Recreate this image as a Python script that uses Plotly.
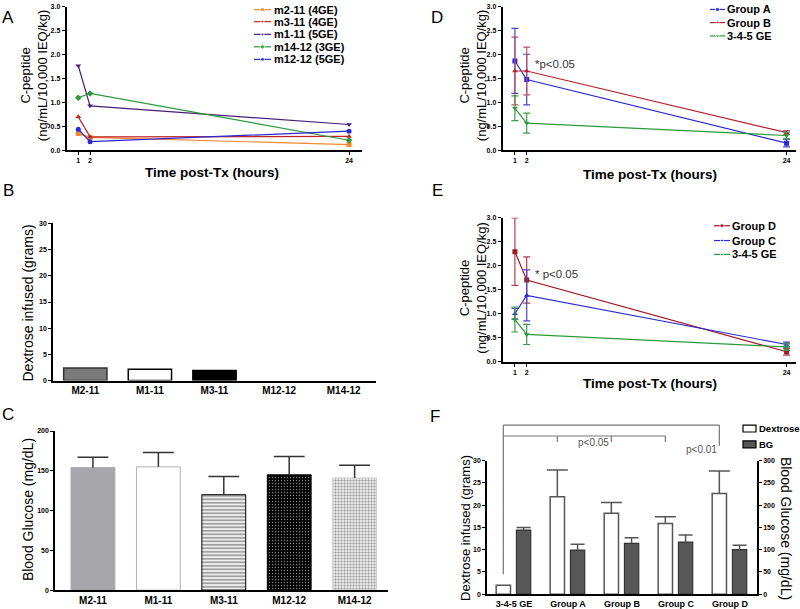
import plotly.graph_objects as go

W, H = 800, 609
FONT = "Liberation Sans, Arial, sans-serif"

# ---------------- data ----------------
hours = [1, 2, 24]

a_names = ["m2-11 (4GE)", "m3-11 (4GE)", "m1-11 (5GE)", "m14-12 (3GE)", "m12-12 (5GE)"]
a_m2_11 = [0.35, 0.27, 0.12]
a_m3_11 = [0.70, 0.28, 0.29]
a_m1_11 = [1.77, 0.93, 0.54]
a_m14_12 = [1.10, 1.19, 0.21]
a_m12_12 = [0.44, 0.18, 0.40]

mice = ["M2-11", "M1-11", "M3-11", "M12-12", "M14-12"]
b_dextrose = [2.4, 2.15, 1.95, 0.0, 0.0]
c_glucose = [154, 155, 120, 145, 141]
c_glucose_err = [13, 18, 23, 23, 16]

d_names = ["Group A", "Group B", "3-4-5 GE"]
d_group_a = [1.87, 1.48, 0.15]
d_group_a_err = [0.68, 0.53, 0.08]
d_group_b = [1.66, 1.66, 0.37]
d_group_b_err = [0.71, 0.50, 0.04]
ge_345 = [0.88, 0.57, 0.31]
ge_345_err = [0.26, 0.21, 0.07]

e_names = ["Group D", "Group C", "3-4-5 GE"]
e_group_d = [2.29, 1.70, 0.21]
e_group_d_err = [0.70, 0.48, 0.07]
e_group_c = [1.00, 1.38, 0.36]
e_group_c_err = [0.11, 0.53, 0.05]

f_groups = ["3-4-5 GE", "Group A", "Group B", "Group C", "Group D"]
f_dextrose = [2.0, 21.9, 18.2, 15.9, 22.6]
f_dextrose_err = [0.0, 6.0, 2.4, 1.5, 5.1]
f_bg = [144, 99, 114, 117, 100]
f_bg_err = [6, 13, 13, 16, 10]

# ---------------- styles ----------------
a_colors = ["#f5882f", "#c4231f", "#4b1d78", "#2b9a3b", "#2a2ad2"]
a_symbols = ["square", "triangle-up", "triangle-down", "diamond", "circle"]
d_colors = ["#2a2ad2", "#b8202a", "#2b9a3b"]
d_ecolors = ["#4646c8", "#c0506a", "#3a9a4a"]
e_colors = ["#a01820", "#2a2ad2", "#2b9a3b"]
e_ecolors = ["#b04050", "#4646c8", "#3a9a4a"]
grp_symbols_d = ["square", "triangle-up", "triangle-down"]
grp_symbols_e = ["square", "triangle-up", "triangle-down"]


def fx(p):
    return p / W


def fy(p):
    return 1 - p / H


def axis(**kw):
    base = dict(showline=True, linecolor="black", linewidth=1.5, showgrid=False,
                zeroline=False, ticks="outside", ticklen=3, tickwidth=1.2,
                tickcolor="black",
                tickfont=dict(family=FONT, size=7, color="black", weight="bold"))
    base.update(kw)
    return base


fig = go.Figure()

# ---- Panel A ----
for name, ys, col, sym in zip(a_names, [a_m2_11, a_m3_11, a_m1_11, a_m14_12, a_m12_12],
                              a_colors, a_symbols):
    fig.add_trace(go.Scatter(x=hours, y=ys, name=name, mode="lines+markers",
                             line=dict(color=col, width=1.2),
                             marker=dict(symbol=sym, size=5, color=col),
                             xaxis="x", yaxis="y", showlegend=False))

# ---- Panel B ----
fig.add_trace(go.Bar(x=mice, y=b_dextrose, width=0.67,
                     marker=dict(color=["#7a7a7a", "white", "black", "white", "white"],
                                 line=dict(color=["#333333", "black", "black", "black", "black"],
                                           width=[1.5, 1.5, 1.5, 0, 0])),
                     xaxis="x2", yaxis="y2", showlegend=False))

# ---- Panel C ----
fig.add_trace(go.Bar(x=mice, y=c_glucose, width=0.67,
                     marker=dict(color=["#a6a6ab", "white", "white", "black", "white"],
                                 line=dict(color=["#a6a6ab", "#b0b0b0", "black", "black", "#cccccc"],
                                           width=1),
                                 pattern=dict(shape=["", "", "-", ".", "."],
                                              fillmode="overlay",
                                              fgcolor=["#a6a6ab", "white", "black", "#2c2c2c", "#b0b0b0"],
                                              size=[8, 8, 3.5, 3, 3],
                                              solidity=[0.3, 0.3, 0.6, 0.2, 0.5])),
                     xaxis="x3", yaxis="y3", showlegend=False))
fig.add_trace(go.Scatter(x=mice, y=[v + e for v, e in zip(c_glucose, c_glucose_err)],
                         mode="markers",
                         marker=dict(symbol="line-ew", size=22, line=dict(color="#333333", width=1.5)),
                         error_y=dict(type="data", symmetric=False, array=[0] * 5,
                                      arrayminus=c_glucose_err, width=0, thickness=1.5,
                                      color="#333333"),
                         xaxis="x3", yaxis="y3", showlegend=False))

# ---- Panel D ----
for name, ys, errs, col, ecol, sym in zip(d_names, [d_group_a, d_group_b, ge_345],
                                          [d_group_a_err, d_group_b_err, ge_345_err],
                                          d_colors, d_ecolors, grp_symbols_d):
    fig.add_trace(go.Scatter(x=hours, y=ys, name=name, mode="lines+markers",
                             line=dict(color=col, width=1.2),
                             marker=dict(symbol=sym, size=5, color=col),
                             error_y=dict(type="data", array=errs, color=ecol,
                                          thickness=1.2, width=3.5),
                             xaxis="x4", yaxis="y4", showlegend=False))

# ---- Panel E ----
for name, ys, errs, col, ecol, sym in zip(e_names, [e_group_d, e_group_c, ge_345],
                                          [e_group_d_err, e_group_c_err, ge_345_err],
                                          e_colors, e_ecolors, grp_symbols_e):
    fig.add_trace(go.Scatter(x=hours, y=ys, name=name, mode="lines+markers",
                             line=dict(color=col, width=1.2),
                             marker=dict(symbol=sym, size=5, color=col),
                             error_y=dict(type="data", array=errs, color=ecol,
                                          thickness=1.2, width=3.5),
                             xaxis="x5", yaxis="y5", showlegend=False))

# ---- Panel F ----
f_x = list(range(len(f_groups)))
F_W = 0.265
F_OFF_DEX = -0.33
F_OFF_BG = 0.045
fig.add_trace(go.Bar(x=f_x, y=f_dextrose, width=F_W, offset=F_OFF_DEX,
                     marker=dict(color="white", line=dict(color="#555555", width=1.5)),
                     xaxis="x6", yaxis="y6", showlegend=False))
fig.add_trace(go.Bar(x=f_x, y=f_bg, width=F_W, offset=F_OFF_BG,
                     marker=dict(color="#575757", line=dict(color="#333333", width=1.2)),
                     xaxis="x6", yaxis="y7", showlegend=False))


def err_trace(vals, errs, off, cap, axy):
    xs, ys, es = [], [], []
    for i, (v, e) in enumerate(zip(vals, errs)):
        if e > 0:
            xs.append(i + off + F_W / 2)
            ys.append(v + e)
            es.append(e)
    return go.Scatter(x=xs, y=ys, mode="markers",
                      marker=dict(symbol="line-ew", size=cap, line=dict(color="#555555", width=1.5)),
                      error_y=dict(type="data", symmetric=False, array=[0] * len(es),
                                   arrayminus=es, width=0, thickness=1.5, color="#555555"),
                      xaxis="x6", yaxis=axy, showlegend=False)


fig.add_trace(err_trace(f_dextrose, f_dextrose_err, F_OFF_DEX, 15, "y6"))
fig.add_trace(err_trace(f_bg, f_bg_err, F_OFF_BG, 10, "y7"))


# ---- legend glyphs (overlay axis in pixel units) ----
def legend_glyph(x0, x1, yr, col, sym, msize=5):
    return go.Scatter(x=[x0, (x0 + x1) / 2, x1], y=[yr, yr, yr], mode="lines+markers",
                      line=dict(color=col, width=1.2),
                      marker=dict(symbol=sym, size=[0, msize, 0], color=col),
                      xaxis="x8", yaxis="y8", showlegend=False, hoverinfo="skip")


annotations = []
shapes = []


def legend_text(x, y, text, size):
    annotations.append(dict(x=fx(x), y=fy(y), xref="paper", yref="paper", text=text,
                            xanchor="left", yanchor="middle", showarrow=False,
                            font=dict(family=FONT, size=size, color="black", weight="bold")))


a_leg_rows = [5.7, 17.9, 30.7, 43.3, 56.0]
for name, col, sym, yr in zip(a_names, a_colors, a_symbols, a_leg_rows):
    fig.add_trace(legend_glyph(254, 271, yr, col, sym, 4))
    legend_text(272, yr, name, 11)

d_leg_rows = [5.5, 18.8, 32.3]
for name, col, sym, yr in zip(d_names, d_colors, grp_symbols_d, d_leg_rows):
    fig.add_trace(legend_glyph(710, 725, yr, col, sym, 4))
    legend_text(725, yr, name, 11)

e_leg_rows = [224.3, 239.3, 253.3]
for name, col, sym, yr in zip(e_names, e_colors, grp_symbols_e, e_leg_rows):
    fig.add_trace(legend_glyph(714, 730, yr, col, sym, 4))
    legend_text(730, yr, name, 11)

# F legend boxes
for label, fill, yr in [("Dextrose", "white", 429.5), ("BG", "#575757", 445.5)]:
    shapes.append(dict(type="rect", xref="paper", yref="paper", x0=fx(743), x1=fx(756),
                       y0=fy(yr + 3.5), y1=fy(yr - 3.5), fillcolor=fill,
                       line=dict(color="black", width=1.2)))
    legend_text(756.5, yr, label, 9.5)

# ---------------- axes ----------------
XA_DOM = [fx(66.5), fx(362)]
XD_DOM = [fx(502.5), fx(796)]
XF_DOM = [fx(487), fx(757)]
XF_RANGE = [-0.5, 4.5]


def f_px(v):
    return XF_DOM[0] + (v - XF_RANGE[0]) / (XF_RANGE[1] - XF_RANGE[0]) * (XF_DOM[1] - XF_DOM[0])


time_ticks = dict(tickmode="array", tickvals=hours, ticktext=[str(h) for h in hours])
cat_font = dict(family=FONT, size=10, color="black", weight="bold")

fig.update_layout(
    xaxis=axis(domain=XA_DOM, range=[0, 25.1], anchor="y", **time_ticks),
    yaxis=axis(domain=[fy(148), fy(3)], range=[0, 3], dtick=0.5, tickformat=".1f", anchor="x"),
    xaxis2=axis(domain=[fx(53), fx(376)], range=[-0.5, 4.5], anchor="y2", ticks="", ticklen=0,
                tickfont=cat_font),
    yaxis2=axis(domain=[fy(381), fy(222)], range=[0, 30], dtick=5, anchor="x2"),
    xaxis3=axis(domain=[fx(55), fx(388)], range=[-0.58, 4.51], anchor="y3", ticks="", ticklen=0,
                tickfont=cat_font),
    yaxis3=axis(domain=[fy(593), fy(432)], range=[0, 200], dtick=50, anchor="x3"),
    xaxis4=axis(domain=XD_DOM, range=[-0.05, 24.8], anchor="y4", **time_ticks),
    yaxis4=axis(domain=[fy(148), fy(3)], range=[0, 3], dtick=0.5, tickformat=".1f", anchor="x4"),
    xaxis5=axis(domain=XD_DOM, range=[-0.05, 24.8], anchor="y5", **time_ticks),
    yaxis5=axis(domain=[fy(362), fy(216)], range=[0, 3], dtick=0.5, tickformat=".1f", anchor="x5"),
    xaxis6=axis(domain=XF_DOM, range=XF_RANGE, anchor="y6", ticks="", ticklen=0, tickmode="array",
                tickvals=f_x, ticktext=f_groups,
                tickfont=dict(family=FONT, size=9, color="black", weight="bold")),
    yaxis6=axis(domain=[fy(597), fy(462)], range=[0, 30], dtick=5, anchor="x6"),
    yaxis7=axis(domain=[fy(597), fy(462)], range=[0, 300], dtick=50, anchor="x6",
                overlaying="y6", side="right"),
    xaxis8=dict(domain=[0, 1], range=[0, W], visible=False, anchor="y8", fixedrange=True),
    yaxis8=dict(domain=[0, 1], range=[H, 0], visible=False, anchor="x8", fixedrange=True),
)


# ---------------- titles & labels ----------------
def ann(x, y, text, size, angle=0, bold=False, color="black", xanchor="center"):
    annotations.append(dict(x=fx(x), y=fy(y), xref="paper", yref="paper", text=text,
                            showarrow=False, textangle=angle, xanchor=xanchor, yanchor="middle",
                            font=dict(family=FONT, size=size, color=color,
                                      weight="bold" if bold else "normal")))


for letter, x, y in [("A", 8, 14), ("B", 8, 189), ("C", 8, 415), ("D", 437, 14),
                     ("E", 437, 189), ("F", 435, 417)]:
    ann(x, y, letter, 17)

cpep = "C-peptide<br>(ng/mL/10,000 IEQ/kg)"
ann(34, 72, cpep, 13, angle=-90)
ann(473, 72, cpep, 13, angle=-90)
ann(473, 287, cpep, 13, angle=-90)
ann(212, 170, "Time post-Tx (hours)", 13.5, bold=True)
ann(650, 172, "Time post-Tx (hours)", 13.5, bold=True)
ann(650, 384, "Time post-Tx (hours)", 13.5, bold=True)
ann(28, 303, "Dextrose infused (grams)", 14, angle=-90)
ann(28, 512, "Blood Glucose (mg/dL)", 14, angle=-90)
ann(466, 530, "Dextrose infused (grams)", 13, angle=-90)
ann(786, 530, "Blood Glucose (mg/dL)", 14, angle=90)
ann(533, 61, "*p<0.05", 11.5, color="#333333", xanchor="left")
ann(533, 273, "* p<0.05", 11.5, color="#333333", xanchor="left")

# F significance brackets
dex_c = [i + F_OFF_DEX + F_W / 2 for i in f_x]
bc = "#777777"


def bline(x0, x1, y0, y1):
    shapes.append(dict(type="line", xref="paper", yref="paper", x0=x0, x1=x1,
                       y0=fy(y0), y1=fy(y1), line=dict(color=bc, width=1.2)))


bline(f_px(dex_c[0]), f_px(dex_c[4]), 426, 426)
bline(f_px(dex_c[0]), f_px(dex_c[0]), 426, 577)
bline(f_px(dex_c[4]), f_px(dex_c[4]), 426, 447)
bline(f_px(dex_c[0]), f_px(dex_c[3]), 437, 437)
for i in (1, 2, 3):
    bline(f_px(dex_c[i]), f_px(dex_c[i]), 437, 443)
annotations.append(dict(x=f_px(dex_c[2]), y=fy(451), xref="paper", yref="paper", text="p<0.05",
                        showarrow=False, font=dict(family=FONT, size=10, color="#555555")))
annotations.append(dict(x=f_px(dex_c[4]), y=fy(458), xref="paper", yref="paper", text="p<0.01",
                        showarrow=False, font=dict(family=FONT, size=10, color="#555555")))

fig.update_layout(
    width=W, height=H, margin=dict(l=0, r=0, t=0, b=0),
    paper_bgcolor="white", plot_bgcolor="rgba(0,0,0,0)",
    showlegend=False, barmode="overlay",
    annotations=annotations, shapes=shapes,
    font=dict(family=FONT, color="black"),
)

fig.write_html("out.html", config={"displayModeBar": False},
               post_script="document.body.style.margin='0px';")
